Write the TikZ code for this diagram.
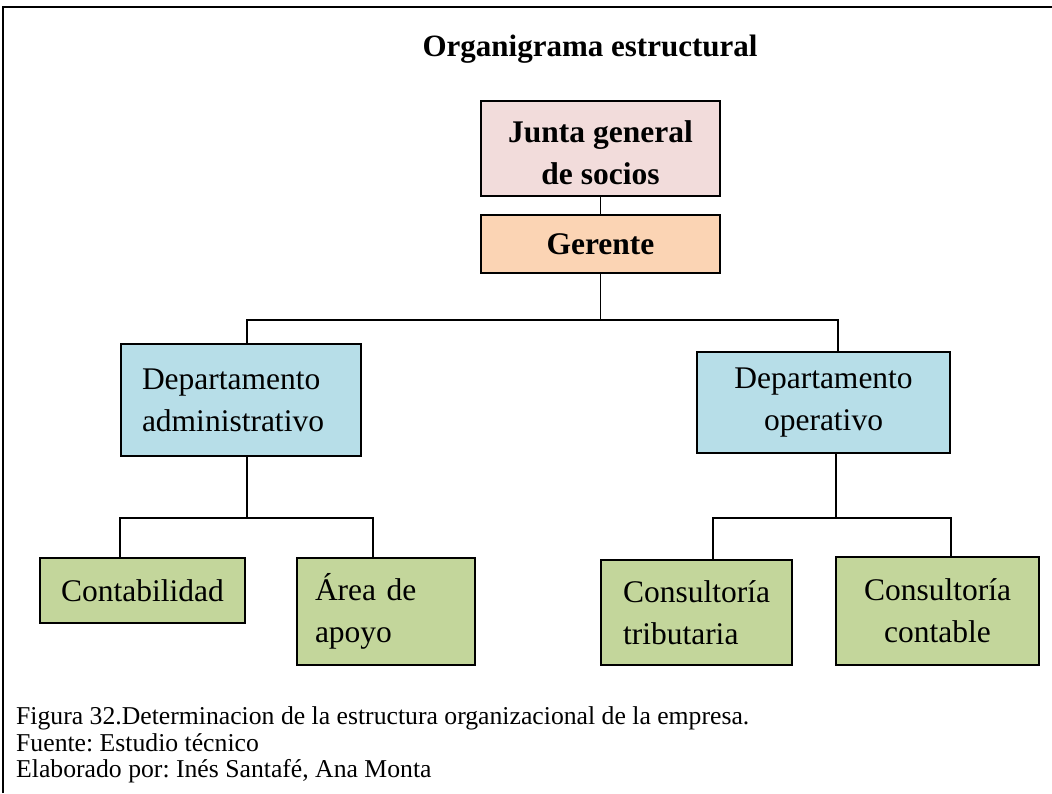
\documentclass[tikz,border=0pt]{standalone}
\usepackage{fontspec}
\setmainfont{Liberation Serif}
\usepackage{xcolor}
\usepackage{tikz}
\usetikzlibrary{positioning}
\frenchspacing

\definecolor{rosa}{HTML}{F2DCDB}
\definecolor{durazno}{HTML}{FBD4B4}
\definecolor{celeste}{HTML}{B7DEE8}
\definecolor{verde}{HTML}{C3D69B}

\begin{document}
\begin{tikzpicture}[
        x=1pt, y=-1pt,
        box/.style={draw, line width=1.5pt, inner sep=0pt, align=center,
            font=\fontsize{31.5}{42}\selectfont},
        linea/.style={line width=1.5pt}
    ]
        \useasboundingbox (0,0) rectangle (1052,793);
        \draw[line width=1.5pt] (3,793) -- (3,7) -- (1052,7);

        \node[font=\fontsize{31}{37}\selectfont\bfseries] (titulo) at (590,49) {Organigrama estructural};

        \node[box, fill=rosa, minimum width=239, minimum height=95, font=\fontsize{31.5}{42}\selectfont\bfseries] (junta) at (600.5,148.5) {\strut Junta general\\de socios};
        \node[box, fill=durazno, minimum width=239, minimum height=58, font=\fontsize{31.5}{42}\selectfont\bfseries] (ger) at (600.5,244) {Gerente};

        \node[box, fill=celeste, minimum width=240, minimum height=112, text width=198, align=left] (dadm) at (241,400) {Departamento\\administrativo};
        \node[box, fill=celeste, minimum width=253, minimum height=101] (dop) at (823.5,402.5) {Departamento\\operativo};

        \node[box, fill=verde, minimum width=205, minimum height=65] (cont) at (142.5,590.5) {Contabilidad};
        \node[box, fill=verde, minimum width=178, minimum height=107, text width=142, align=left] (area) at (386,611.5) {Área de\\apoyo};
        \node[box, fill=verde, minimum width=191, minimum height=105, align=left] (ctrib) at (696.5,612.5) {Consultoría\\tributaria};
        \node[box, fill=verde, minimum width=203, minimum height=108] (ccont) at (937.5,611) {Consultoría\\contable};

        % ramales
        \coordinate (r0) at (600.5,320);
        \coordinate (r1) at (247,518);
        \coordinate (r2) at (836,518);

        \draw[linea] (junta) -- (ger);
        \draw[linea] (ger) -- (r0);
        \draw[linea] ([xshift=6pt]dadm.north) |- (r0) -| ([xshift=14.5pt]dop.north);
        \draw[linea] ([xshift=6pt]dadm.south) -- (r1);
        \draw[linea] ([xshift=-22.5pt]cont.north) |- (r1) -| ([xshift=-13pt]area.north);
        \draw[linea] ([xshift=12.5pt]dop.south) -- (r2);
        \draw[linea] ([xshift=16.5pt]ctrib.north) |- (r2) -| ([xshift=13.5pt]ccont.north);

        \node[anchor=west, align=left, inner sep=0pt, font=\fontsize{25.7}{26.5}\selectfont] (pie) at (16,745)
            {Figura 32.Determinacion de la estructura organizacional de la empresa.\\
             Fuente: Estudio técnico\\
             Elaborado por: Inés Santafé, Ana Monta};
    \end{tikzpicture}
\end{document}
